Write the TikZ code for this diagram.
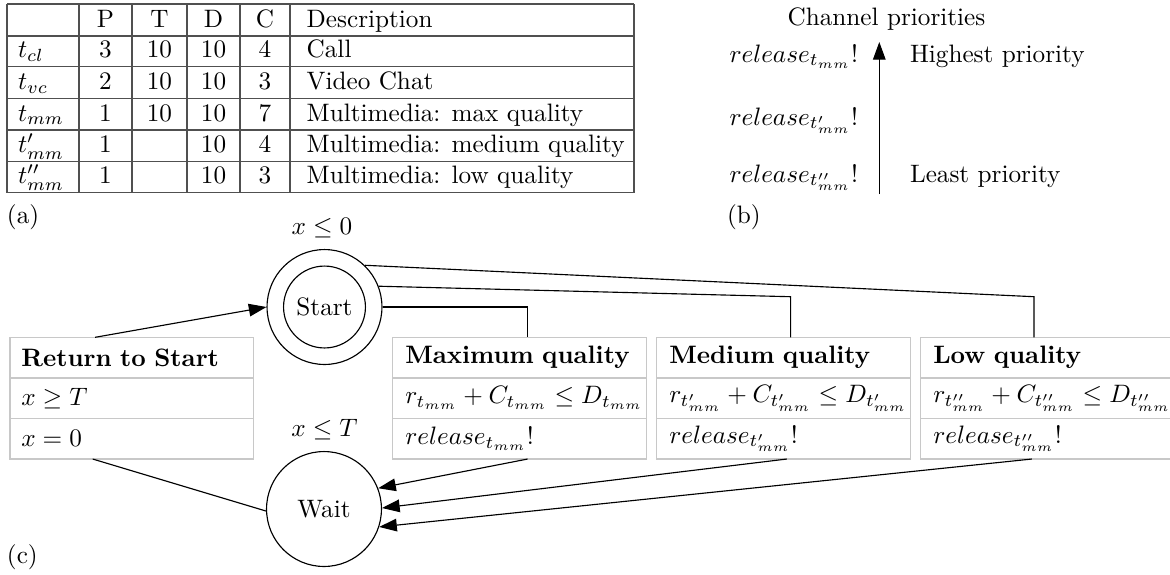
\documentclass[tikz,border=0pt]{standalone}
\usetikzlibrary{arrows.meta,calc}
\definecolor{boxgray}{HTML}{C8C8C8}
\definecolor{rulegray}{HTML}{505050}
\begin{document}
\begin{tikzpicture}[x=0.3968pt, y=-0.3968pt,
  arr/.style={-{Triangle[length=7pt,width=5pt]}, line width=0.45pt},
  conn/.style={line width=0.45pt},
  lbl/.style={inner sep=0pt, outer sep=0pt},
  state/.style={circle, draw, line width=0.45pt, inner sep=0pt},
  row/.style={draw=boxgray, line width=0.5pt, minimum height=16.1pt,
    inner xsep=5pt, inner ysep=0pt, outer sep=0pt, align=left, anchor=north west},
]
\useasboundingbox (0,0) rectangle (1170,574);

% ---------- (a) task table ----------
\foreach \y in {4,36,66.7,98.7,130,161.7,192.7}
  \draw[rulegray, line width=0.45pt] (7,\y) -- (634,\y);
\foreach \x in {7,79,132,187,240,290,634}
  \draw[rulegray, line width=0.45pt] (\x,4) -- (\x,192.7);

\foreach \b/\n/\p/\t/\d/\c/\desc [count=\i] in {
  27.2//P/T/D/C/Description,
  57.9/$t_{cl}$/3/10/10/4/Call,
  89.9/$t_{vc}$/2/10/10/3/Video Chat,
  121.2/$t_{mm}$/1/10/10/7/Multimedia: max quality,
  152.9/$t'_{mm}$/1//10/4/Multimedia: medium quality,
  183.9/$t''_{mm}$/1//10/3/Multimedia: low quality}{
  \node[lbl, anchor=base west] (task\i) at (18,\b) {\n};
  \node[lbl, anchor=base] (prio\i) at (105.5,\b) {\p};
  \node[lbl, anchor=base] (period\i) at (159.5,\b) {\t};
  \node[lbl, anchor=base] (dead\i) at (213.5,\b) {\d};
  \node[lbl, anchor=base] (cost\i) at (265,\b) {\c};
  \node[lbl, anchor=base west] (desc\i) at (306.7,\b) {\desc};
}
\node[lbl, anchor=base west] (capa) at (7,223) {(a)};

% ---------- (b) channel priorities ----------
\node[lbl, anchor=base] (chtitle) at (886.5,25) {Channel priorities};
\coordinate (ptail) at (879.3,194);
\coordinate (phead) at (879.3,42);
\draw[arr] (ptail) -- (phead);
\node[lbl, anchor=base east] (ch1) at (858,62) {$release_{t_{mm}}!$};
\node[lbl, anchor=base east] (ch2) at (858,125) {$release_{t'_{mm}}!$};
\node[lbl, anchor=base east] (ch3) at (858,182) {$release_{t''_{mm}}!$};
\node[lbl, anchor=base west] (hi) at (910,62) {Highest priority};
\node[lbl, anchor=base west] (lo) at (910,182) {Least priority};
\node[lbl, anchor=base west] (capb) at (727,223) {(b)};

% ---------- (c) automaton ----------
\node[state, minimum size=45.6pt] (start) at (324.5,307) {};
\node[state, minimum size=32.5pt] (startin) at (start.center) {Start};
\node[lbl, anchor=base] (invstart) at (322,234) {$x\leq 0$};

\node[state, minimum size=45.6pt] (wait) at (324,509) {Wait};
\node[lbl, anchor=base] (invwait) at (324.5,436) {$x\leq T$};

% edge boxes: title, guard, action
\node[row, text width=87.5pt, inner xsep=4.5pt] (ret1) at (10,337.3) {\mbox{\textbf{Return to Start}}};
\node[row, text width=87.5pt, inner xsep=4.5pt] (ret2) at (ret1.south west) {\mbox{$x\geq T$}};
\node[row, text width=87.5pt, inner xsep=4.5pt] (ret3) at (ret2.south west) {\mbox{$x=0$}};

\node[row, text width=90.8pt] (max1) at (392.7,337.3) {\mbox{\textbf{Maximum quality}}};
\node[row, text width=90.8pt] (max2) at (max1.south west) {\mbox{$r_{t_{mm}}+C_{t_{mm}}\leq D_{t_{mm}}$}};
\node[row, text width=90.8pt] (max3) at (max2.south west) {\mbox{$release_{t_{mm}}!$}};

\node[row, text width=90.8pt] (med1) at (656.7,337.3) {\mbox{\textbf{Medium quality}}};
\node[row, text width=90.8pt] (med2) at (med1.south west) {\mbox{$r_{t'_{mm}}+C_{t'_{mm}}\leq D_{t'_{mm}}$}};
\node[row, text width=90.8pt] (med3) at (med2.south west) {\mbox{$release_{t'_{mm}}!$}};

\node[row, text width=95.2pt] (low1) at (920.7,337.3) {\mbox{\textbf{Low quality}}};
\node[row, text width=95.2pt] (low2) at (low1.south west) {\mbox{$r_{t''_{mm}}+C_{t''_{mm}}\leq D_{t''_{mm}}$}};
\node[row, text width=95.2pt] (low3) at (low2.south west) {\mbox{$release_{t''_{mm}}!$}};

\node[lbl, anchor=base west] (capc) at (7,563) {(c)};

% attachment points on the boxes
\coordinate (retTop) at ($(ret1.north west)!0.35!(ret1.north east)$);
\coordinate (retBot) at ($(ret3.south west)!0.34!(ret3.south east)$);
\coordinate (maxTop) at ($(max1.north west)!0.531!(max1.north east)$);
\coordinate (maxBot) at ($(max3.south west)!0.531!(max3.south east)$);
\coordinate (medTop) at ($(med1.north west)!0.527!(med1.north east)$);
\coordinate (medBot) at ($(med3.south west)!0.512!(med3.south east)$);
\coordinate (lowTop) at ($(low1.north west)!0.4275!(low1.north east)$);
\coordinate (lowBot) at ($(low3.south west)!0.419!(low3.south east)$);
\coordinate (medBend) at ($(medTop)+(0,-40.6)$);
\coordinate (lowBend) at ($(lowTop)+(0,-40.6)$);

% transitions
\draw[conn] (wait.182) -- (retBot);
\draw[arr] (retTop) -- (start.west);
\draw[conn] (start.east) -| (maxTop);
\draw[conn] (start.21) -- (medBend) -- (medTop);
\draw[conn] (start.46) -- (lowBend) -- (lowTop);
\draw[arr] (maxBot) -- (wait.21);
\draw[arr] (medBot) -- (wait.1);
\draw[arr] (lowBot) -- (wait.-18);
\end{tikzpicture}
\end{document}
